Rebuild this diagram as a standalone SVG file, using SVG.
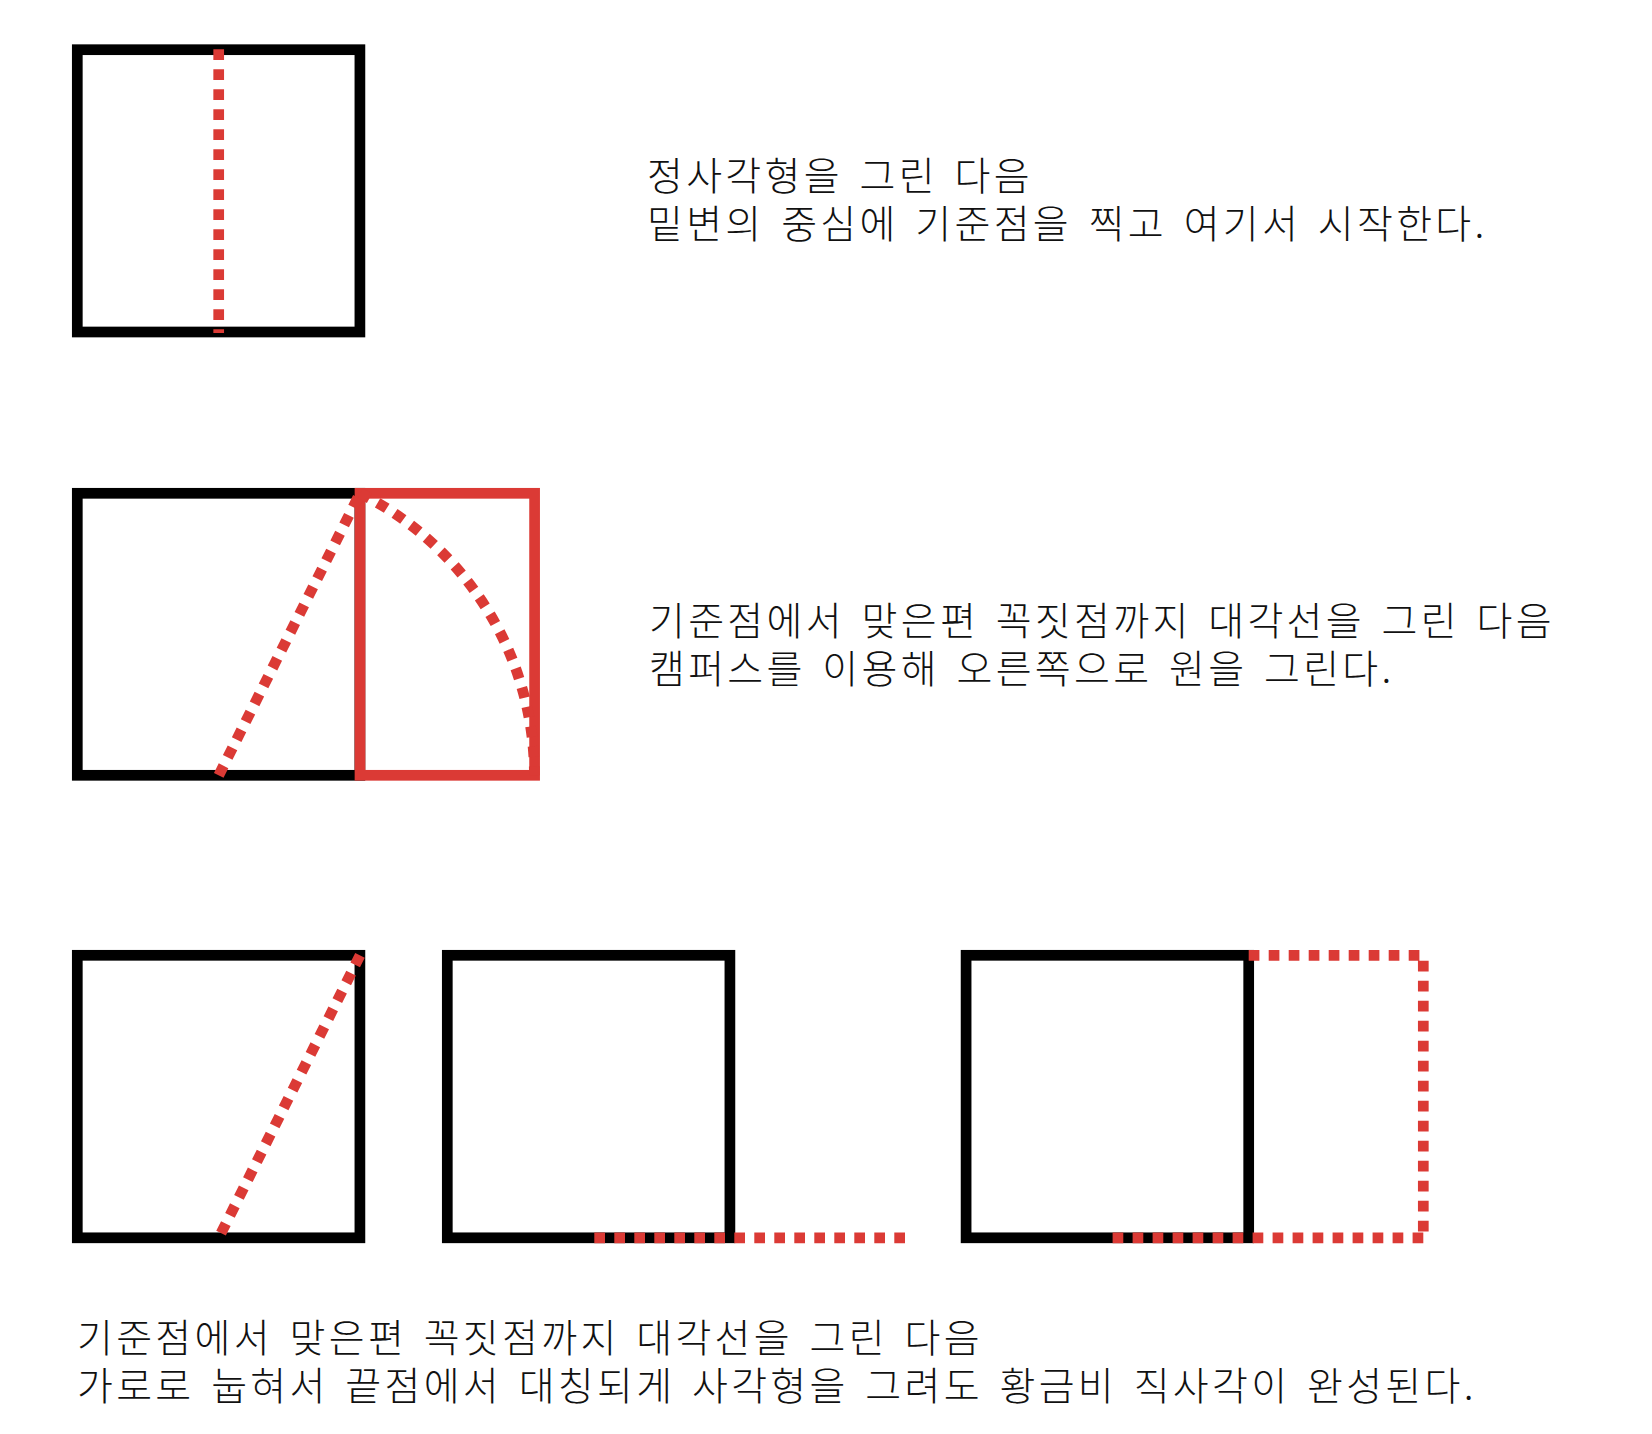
<svg xmlns="http://www.w3.org/2000/svg" width="1652" height="1434" viewBox="0 0 1652 1434">
<style>
.sq{fill:none;stroke:#000;stroke-width:10.7}
.rr{fill:none;stroke:#DB3A35;stroke-width:10.7}
.dash{fill:none;stroke:#DB3A35;stroke-width:10.7;stroke-dasharray:10.7 9.3}
.t{font-family:"Noto Sans CJK KR","Noto Sans",sans-serif;font-size:39px;font-weight:300;fill:#111;letter-spacing:3.3px;word-spacing:4.7px}
</style>
<rect x="0" y="0" width="1652" height="1434" fill="#fff"/>
<g id="step1">
<rect class="sq" x="77.3" y="49.7" width="282.6" height="282.3"/>
<line class="dash" x1="218.7" y1="49.3" x2="218.7" y2="333"/>
</g>
<g id="step2">
<rect class="sq" x="77.3" y="493.3" width="282.6" height="282"/>
<rect class="rr" x="360" y="493.3" width="174.6" height="282"/>
<line class="dash" x1="218.75" y1="775.3" x2="360" y2="493.3"/>
<path class="dash" d="M360,493.3 A315.6,315.6 0 0 1 534.4,775.3"/>
</g>
<g id="step3a">
<rect class="sq" x="77.3" y="955.3" width="282.6" height="282.5"/>
<line class="dash" x1="360" y1="955.3" x2="218.75" y2="1237.8"/>
</g>
<g id="step3b">
<rect class="sq" x="447.3" y="955.3" width="282.6" height="282.5"/>
<line class="dash" x1="905" y1="1237.8" x2="588.6" y2="1237.8"/>
</g>
<g id="step3c">
<rect class="sq" x="966.1" y="955.3" width="282.6" height="282.5"/>
<path class="dash" d="M1248.7,955.3 H1423.3 V1237.8"/>
<line class="dash" x1="1423.3" y1="1237.8" x2="1107.3" y2="1237.8"/>
</g>
<g id="text1">
<text class="t" x="647" y="190">정사각형을 그린 다음</text>
<text class="t" x="647" y="238">밑변의 중심에 기준점을 찍고 여기서 시작한다.</text>
</g>
<g id="text2">
<text class="t" x="649" y="635">기준점에서 맞은편 꼭짓점까지 대각선을 그린 다음</text>
<text class="t" x="649" y="683">캠퍼스를 이용해 오른쪽으로 원을 그린다.</text>
</g>
<g id="text3">
<text class="t" x="77" y="1352">기준점에서 맞은편 꼭짓점까지 대각선을 그린 다음</text>
<text class="t" x="77" y="1400">가로로 눕혀서 끝점에서 대칭되게 사각형을 그려도 황금비 직사각이 완성된다.</text>
</g>
</svg>
